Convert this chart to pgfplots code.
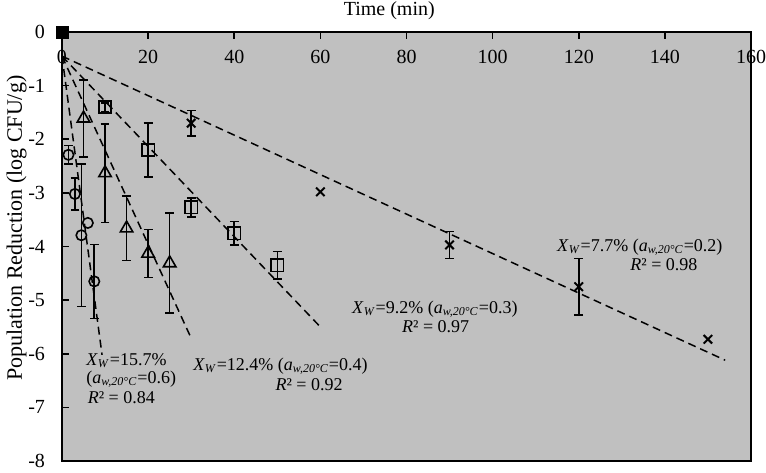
\documentclass[border=0pt]{standalone}
\usepackage{fontspec}
\setmainfont{Liberation Serif}
\usepackage{pgfplots}
\usepackage{pgfplotstable}
\pgfplotsset{compat=1.18}
\definecolor{plotgray}{RGB}{192,192,192}

% time (min), reduction (log CFU/g), error
\pgfplotstableread{
t    r      e
1.5  -2.29  0.17
3    -3.02  0.30
4.5  -3.79  1.33
7.5  -4.65  0.69
}\xwA
\pgfplotstableread{
t    r      e
5    -1.61  0.72
10   -2.63  0.92
15   -3.66  0.60
20   -4.13  0.45
25   -4.31  0.93
}\xwB
\pgfplotstableread{
t    r      e
10   -1.40  0.08
20   -2.20  0.50
30   -3.27  0.18
40   -3.75  0.22
50   -4.35  0.26
}\xwC
\pgfplotstableread{
t    r      e
30   -1.70  0.24
90   -3.97  0.25
120  -4.75  0.53
}\xwD

\pgfplotsset{
  errplot/.style={black, only marks, line width=0.8pt, mark options={solid},
    error bars/.cd, y dir=both, y explicit,
    error bar style={line width=0.8pt, solid},
    error mark options={rotate=90, black, mark size=2.2pt, line width=0.8pt},
    /pgfplots/.cd},
  fitline/.style={black, line width=0.75pt, dash pattern=on 4pt off 2.5pt},
}

\begin{document}
\begin{tikzpicture}
\begin{axis}[
  at={(0,0)}, anchor=south west,
  scale only axis, width=344.5pt, height=214.5pt,
  xmin=0, xmax=160, ymin=-8, ymax=0,
  xtick={0,20,...,160}, ytick={-8,-7,...,0},
  xtick pos=right, xticklabel pos=right, ytick pos=left,
  tick align=inside, major tick length=3.5pt,
  axis background/.style={fill=plotgray},
  axis line style={line width=1pt},
  tick style={line width=0.8pt, black},
  /pgf/number format/assume math mode=true,
  xticklabel style={anchor=center, yshift=-12.5pt},
  yticklabel style={xshift=-5pt},
  xlabel={Time (min)},
  xlabel style={at={(axis description cs:0.475,1)}, anchor=center, yshift=10.5pt},
  ylabel={Population Reduction (log CFU/g)},
  ylabel style={at={(axis description cs:-0.066,0.543)}, anchor=center,
    font=\fontsize{11}{13}\selectfont},
  clip=false,
]
% fitted lines
\addplot[fitline] coordinates {(0,-0.45) (9.3,-6.02)};
\addplot[fitline] coordinates {(0,-0.45) (30,-5.71)};
\addplot[fitline] coordinates {(0,-0.45) (60,-5.50)};
\addplot[fitline] coordinates {(0,-0.45) (154,-6.12)};

% measured points
\addplot[mark=o, mark size=2.6pt, errplot] table[x=t, y=r, y error=e] {\xwA};
\addplot[mark=o, mark size=2.6pt, black, only marks, line width=0.8pt] coordinates {(6,-3.56)};
\addplot[mark=triangle, mark size=3.6pt, errplot] table[x=t, y=r, y error=e] {\xwB};
\addplot[mark=square, mark size=3.1pt, errplot] table[x=t, y=r, y error=e] {\xwC};
\addplot[mark=x, mark size=3pt, errplot, mark options={line width=1pt}] table[x=t, y=r, y error=e] {\xwD};
\addplot[mark=x, mark size=3pt, black, only marks, line width=1pt] coordinates {(60,-2.98) (150,-5.73)};
% common starting point
\addplot[only marks, mark=square*, mark size=3pt, black] coordinates {(0,0)};

% annotations
\begin{scope}[every node/.style={font=\fontsize{9}{11}\selectfont, inner sep=0pt}]
\node[anchor=base west] at (axis cs:5.57,-6.21) {\textit{X}\textsubscript{\textit{W}}=15.7\%};
\node[anchor=base west] at (axis cs:5.57,-6.55) {(\textit{a}\textsubscript{\textit{w,20°C}}=0.6)};
\node[anchor=base west] at (axis cs:5.9,-6.92) {\textit{R}² = 0.84};
\node[anchor=base west] at (axis cs:30.4,-6.32) {\textit{X}\textsubscript{\textit{W}}=12.4\% (\textit{a}\textsubscript{\textit{w,20°C}}=0.4)};
\node[anchor=base west] at (axis cs:49.5,-6.68) {\textit{R}² = 0.92};
\node[anchor=base west] at (axis cs:67.3,-5.24) {\textit{X}\textsubscript{\textit{W}}=9.2\% (\textit{a}\textsubscript{\textit{w,20°C}}=0.3)};
\node[anchor=base west] at (axis cs:78.9,-5.61) {\textit{R}² = 0.97};
\node[anchor=base west] at (axis cs:114.9,-4.10) {\textit{X}\textsubscript{\textit{W}}=7.7\% (\textit{a}\textsubscript{\textit{w,20°C}}=0.2)};
\node[anchor=base west] at (axis cs:131.9,-4.44) {\textit{R}² = 0.98};
\end{scope}
\end{axis}
\pgfresetboundingbox
\path[use as bounding box] (-31pt,-5.5pt) rectangle (352pt,230.5pt);
\end{tikzpicture}
\end{document}
